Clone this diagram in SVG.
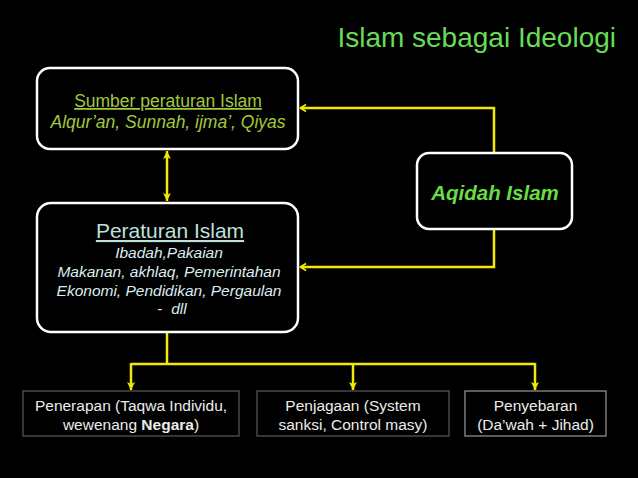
<svg xmlns="http://www.w3.org/2000/svg" width="638" height="478" viewBox="0 0 638 478">
<defs>
<style>
text{font-family:"Liberation Sans",Arial,sans-serif}
.node{fill:#000;stroke:#fff;stroke-width:2.5}
.bx{fill:#000;stroke:#5a5a5a;stroke-width:1.2}
.conn{fill:none;stroke:#f2e800;stroke-width:2.5}
.bt{fill:#ececec;font-size:15.5px;text-anchor:middle}
</style>
<marker id="chev" viewBox="-8 -5 9 10" refX="0" refY="0" markerWidth="9" markerHeight="10" markerUnits="userSpaceOnUse" orient="auto-start-reverse">
<path d="M-6,-3.5 L-0.5,0 L-6,3.5" fill="none" stroke="#f2e800" stroke-width="1.8"/>
</marker>
<marker id="tri" viewBox="-9 -5 10 10" refX="0" refY="0" markerWidth="10" markerHeight="10" markerUnits="userSpaceOnUse" orient="auto-start-reverse">
<path d="M-8,-4 L0,0 L-8,4 L-6,0 Z" fill="#f2e800"/>
</marker>
</defs>
<rect width="638" height="478" fill="#000"/>
<text x="616" y="47" font-size="28" fill="#66dd55" text-anchor="end">Islam sebagai Ideologi</text>
<g id="connectors">
<path class="conn" d="M494,153 V108 H300" marker-end="url(#chev)"/>
<path class="conn" d="M494,229 V267 H300" marker-end="url(#chev)"/>
<path class="conn" d="M167,151 V201" marker-start="url(#tri)" marker-end="url(#tri)"/>
<path class="conn" d="M167,333 V364"/>
<path class="conn" d="M131,364 H535"/>
<path class="conn" d="M131,363 V390" marker-end="url(#tri)"/>
<path class="conn" d="M353,364 V390" marker-end="url(#tri)"/>
<path class="conn" d="M535,363 V390" marker-end="url(#tri)"/>
</g>
<g id="sumber">
<rect class="node" x="37" y="68" width="261" height="81" rx="13"/>
<text x="168" y="107" font-size="17.5" fill="#a2c83c" text-anchor="middle" text-decoration="underline">Sumber peraturan Islam</text>
<text x="168" y="128" font-size="17.5" fill="#a2c83c" text-anchor="middle" font-style="italic">Alqur’an, Sunnah, ijma’, Qiyas</text>
</g>
<g id="peraturan">
<rect class="node" x="37" y="203" width="261" height="129" rx="14"/>
<text x="170" y="238" font-size="21" fill="#bfe0dc" text-anchor="middle" text-decoration="underline">Peraturan Islam</text>
<g font-size="15.5" fill="#dcecf0" text-anchor="middle" font-style="italic">
<text x="169" y="258">Ibadah,Pakaian</text>
<text x="169" y="277">Makanan, akhlaq, Pemerintahan</text>
<text x="169" y="296">Ekonomi, Pendidikan, Pergaulan</text>
<text x="172" y="314" xml:space="preserve"><tspan font-style="normal">-</tspan>  dll</text>
</g>
</g>
<g id="aqidah">
<rect class="node" x="417" y="153" width="155" height="76" rx="12"/>
<text x="495" y="200" font-size="20.5" fill="#66dd44" text-anchor="middle" font-style="italic" font-weight="bold">Aqidah Islam</text>
</g>
<g id="penerapan">
<rect class="bx" x="23" y="391" width="216" height="45"/>
<text class="bt" x="131" y="411">Penerapan (Taqwa Individu,</text>
<text class="bt" x="131" y="430">wewenang <tspan font-weight="bold">Negara</tspan>)</text>
</g>
<g id="penjagaan">
<rect class="bx" x="257" y="391" width="192" height="45"/>
<text class="bt" x="353" y="411">Penjagaan (System</text>
<text class="bt" x="353" y="430">sanksi, Control masy)</text>
</g>
<g id="penyebaran">
<rect class="bx" x="465" y="391" width="141" height="45" style="stroke:#9a9a9a"/>
<text class="bt" x="535.5" y="411">Penyebaran</text>
<text class="bt" x="535.5" y="430">(Da’wah + Jihad)</text>
</g>
</svg>
